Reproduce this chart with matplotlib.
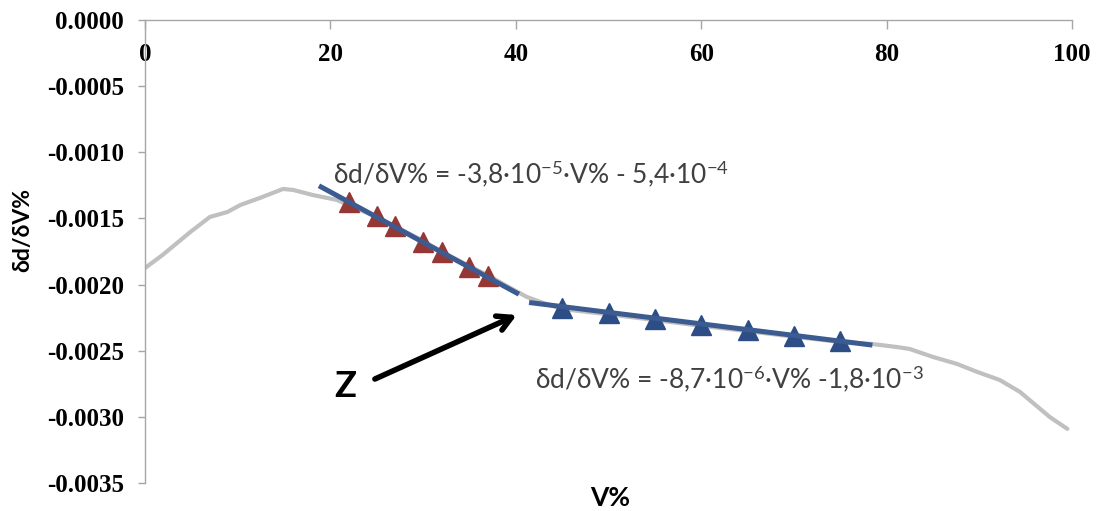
import matplotlib
matplotlib.use("Agg")
import matplotlib.pyplot as plt
import numpy as np

# ---------------- data ----------------
curve_x = [0, 1.9, 4.9, 7.0, 8.9, 10.3, 12.4, 14.9, 16.0, 18.1, 20.7, 22, 25, 27, 30, 32, 35, 37,
           39, 41.2, 43, 45, 50, 55, 60, 65, 70, 75, 78.4, 81.1, 82.5, 85.0, 87.6, 89.8, 92.2,
           94.4, 95.8, 97.6, 99.5]
curve_y = [-1.875e-3, -1.776e-3, -1.602e-3, -1.489e-3, -1.451e-3, -1.398e-3, -1.345e-3, -1.277e-3,
           -1.285e-3, -1.323e-3, -1.360e-3, -1.400e-3, -1.490e-3, -1.560e-3, -1.670e-3, -1.750e-3,
           -1.860e-3, -1.930e-3, -2.010e-3, -2.094e-3, -2.140e-3, -2.185e-3, -2.225e-3, -2.268e-3,
           -2.312e-3, -2.352e-3, -2.394e-3, -2.434e-3, -2.449e-3, -2.472e-3, -2.487e-3, -2.547e-3,
           -2.600e-3, -2.661e-3, -2.721e-3, -2.812e-3, -2.895e-3, -3.001e-3, -3.091e-3]

red_x = [22, 25, 27, 30, 32, 35, 37]
red_y = [-1.373e-3, -1.482e-3, -1.557e-3, -1.675e-3, -1.751e-3, -1.864e-3, -1.935e-3]

blue_x = [45, 50, 55, 60, 65, 70, 75]
blue_y = [-2.179e-3, -2.217e-3, -2.262e-3, -2.305e-3, -2.343e-3, -2.388e-3, -2.426e-3]

fit1_slope, fit1_intercept, fit1_range = -3.8e-5, -5.4e-4, (19.0, 40.1)
fit2_slope, fit2_intercept, fit2_range = -8.7e-6, -1.775e-3, (41.7, 78.2)

eq1 = r"δd/δV% = -3,8·10$^{\mathregular{-5}}$·V% - 5,4·10$^{\mathregular{-4}}$"
eq2 = r"δd/δV% = -8,7·10$^{\mathregular{-6}}$·V% -1,8·10$^{\mathregular{-3}}$"

x_ticks = [0, 20, 40, 60, 80, 100]
y_ticks = [0.0, -0.0005, -0.0010, -0.0015, -0.0020, -0.0025, -0.0030, -0.0035]
y_ticklabels = ["0.0000", "-0.0005", "-0.0010", "-0.0015", "-0.0020", "-0.0025", "-0.0030", "-0.0035"]

# ---------------- style ----------------
plt.rcParams['mathtext.fontset'] = 'custom'
plt.rcParams['mathtext.rm'] = 'Lato'
plt.rcParams['mathtext.it'] = 'Lato:italic'
plt.rcParams['mathtext.bf'] = 'Lato:bold'

fig = plt.figure(figsize=(10.96, 5.11), dpi=100)
ax = fig.add_axes([145/1096, 1-483/511, (1072-145)/1096, (483-20)/511])

grey = '#c0c0c0'
line_blue = '#3c5b91'
tri_blue = '#2c4d85'
tri_red = '#953735'

ax.plot(curve_x, curve_y, color=grey, lw=3.0, solid_capstyle='round', zorder=1)
ax.plot(red_x, red_y, ls='none', marker='^', ms=15, color=tri_red, zorder=2)
ax.plot(blue_x, blue_y, ls='none', marker='^', ms=14, color=tri_blue, zorder=2)

for s, b, (x0, x1) in [(fit1_slope, fit1_intercept, fit1_range), (fit2_slope, fit2_intercept, fit2_range)]:
    xs = np.array([x0, x1])
    ax.plot(xs, s*xs + b, color=line_blue, lw=3.6, zorder=3)

ax.set_xlim(0, 100)
ax.set_ylim(-0.0035, 0)

for sp in ['right', 'top']:
    ax.spines[sp].set_visible(False)
ax.spines['bottom'].set_position(('data', 0))
for sp in ['left', 'bottom']:
    ax.spines[sp].set_color('#a6a6a6')
    ax.spines[sp].set_linewidth(1.0)

ax.set_xticks(x_ticks)
ax.set_xticklabels([str(t) for t in x_ticks])
ax.set_yticks(y_ticks)
ax.set_yticklabels(y_ticklabels)
ax.tick_params(axis='x', direction='out', length=6.5, width=1.0, color='#a6a6a6', pad=10)
ax.tick_params(axis='y', direction='out', length=5, width=1.0, color='#a6a6a6', pad=10)
for lab in ax.get_xticklabels() + ax.get_yticklabels():
    lab.set_fontfamily('Liberation Serif')
    lab.set_fontweight('bold')
    lab.set_fontsize(18)

# axis labels
fig.text(610/1096, 1-498/511, "V%", fontfamily='Lato', fontweight='bold', fontsize=19,
         ha='center', va='center')
fig.text(23/1096, 1-230/511, "δd/δV%", fontfamily='Lato', fontweight='bold', fontsize=16.5,
         ha='center', va='center', rotation=90)

# equations
ax.text(20.3, -1.232e-3, eq1, fontfamily='Lato', fontsize=19, color='#404040', ha='left', va='baseline')
ax.text(42.1, -2.782e-3, eq2, fontfamily='Lato', fontsize=19, color='#404040', ha='left', va='baseline')

# Z marker with arrow
ax.text(21.6, -2.774e-3, "Z", fontfamily='Lato', fontweight='bold', fontsize=26, ha='center', va='center')
ax.annotate("", xy=(40.1, -2.230e-3), xytext=(24.8, -2.714e-3),
            arrowprops=dict(arrowstyle='->,head_length=1.0,head_width=0.55', lw=4, color='black',
                            shrinkA=0, shrinkB=0))

fig.savefig("out.png", dpi=100)
